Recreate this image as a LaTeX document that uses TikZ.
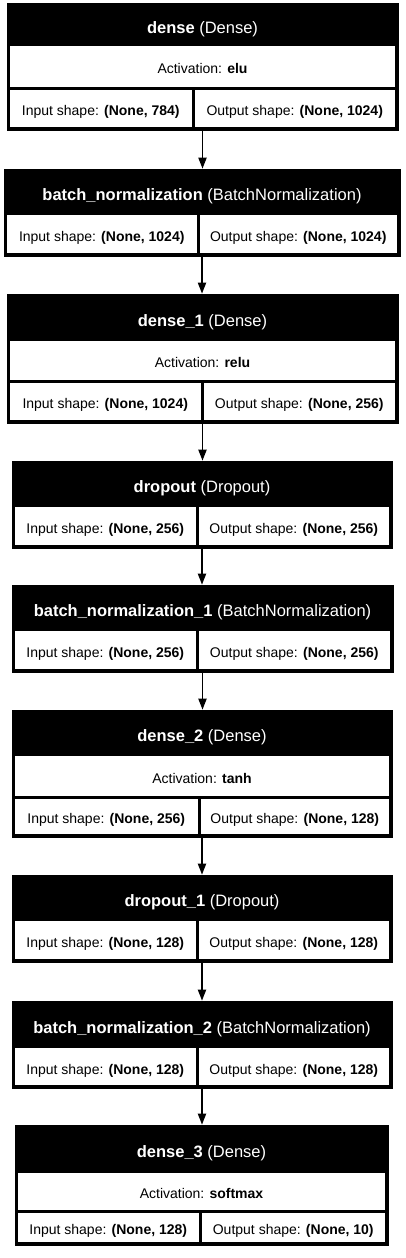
\documentclass[tikz,border=0pt]{standalone}
\usepackage{fontspec}
\setmainfont{Liberation Sans}
\usetikzlibrary{fit,calc}
\usetikzlibrary{arrows.meta,positioning}
\tikzset{
    layer/.style={fill=black,draw=black,line width=0.6pt,inner sep=0pt},
    head/.style={text=white,inner sep=0pt,text height=17pt,text depth=0pt,font=\fontsize{16.5}{19}\selectfont},
    cell/.style={fill=white,inner sep=0pt},
    txt/.style={inner sep=0pt,text height=15pt,text depth=0pt,font=\fontsize{14}{16}\selectfont},
}

\begin{document}
\begin{tikzpicture}[x=1pt,y=-1pt,flow/.style={-{Triangle[length=11pt,width=8pt]},line width=1.8pt}]
                \useasboundingbox (0,0) rectangle (405,1258);

                % dense
                \node[layer, fit={(7,3.5) (398,130)}] (b1) {};
                \node[head] (h1) at (202.5,24.5) {\textbf{dense} (Dense)};
                \node[cell, fit={(10,45.5) (395,86.5)}, label={[txt]center:{Activation: \textbf{elu}}}] (a1) {};
                \node[cell, fit={(10,89.5) (191.5,127)}, label={[txt]center:{Input shape: \textbf{(None, 784)}}}] (i1) {};
                \node[cell, fit={(194.5,89.5) (395,127)}, label={[txt]center:{Output shape: \textbf{(None, 1024)}}}] (o1) {};

                % batch_normalization
                \node[layer, fit={(4,169) (400,256)}] (b2) {};
                \node[head] (h2) at (202,192) {\textbf{batch\_normalization} (BatchNormalization)};
                \node[cell, fit={(7,215) (196.5,253)}, label={[txt]center:{Input shape: \textbf{(None, 1024)}}}] (i2) {};
                \node[cell, fit={(199.5,215) (397,253)}, label={[txt]center:{Output shape: \textbf{(None, 1024)}}}] (o2) {};

                % dense_1
                \node[layer, fit={(7,294) (398,423)}] (b3) {};
                \node[head] (h3) at (202.5,317.5) {\textbf{dense\_1} (Dense)};
                \node[cell, fit={(10,341) (395,379.5)}, label={[txt]center:{Activation: \textbf{relu}}}] (a3) {};
                \node[cell, fit={(10,382.5) (200.5,420)}, label={[txt]center:{Input shape: \textbf{(None, 1024)}}}] (i3) {};
                \node[cell, fit={(203.5,382.5) (395,420)}, label={[txt]center:{Output shape: \textbf{(None, 256)}}}] (o3) {};

                % dropout
                \node[layer, fit={(12,461) (392,548)}] (b4) {};
                \node[head] (h4) at (202,484) {\textbf{dropout} (Dropout)};
                \node[cell, fit={(15,507) (195.5,545)}, label={[txt]center:{Input shape: \textbf{(None, 256)}}}] (i4) {};
                \node[cell, fit={(198.5,507) (389,545)}, label={[txt]center:{Output shape: \textbf{(None, 256)}}}] (o4) {};

                % batch_normalization_1
                \node[layer, fit={(12,585) (393,672)}] (b5) {};
                \node[head] (h5) at (202.5,608) {\textbf{batch\_normalization\_1} (BatchNormalization)};
                \node[cell, fit={(15,631) (195.5,669)}, label={[txt]center:{Input shape: \textbf{(None, 256)}}}] (i5) {};
                \node[cell, fit={(198.5,631) (390,669)}, label={[txt]center:{Output shape: \textbf{(None, 256)}}}] (o5) {};

                % dense_2
                \node[layer, fit={(12,710) (392,837)}] (b6) {};
                \node[head] (h6) at (202,733) {\textbf{dense\_2} (Dense)};
                \node[cell, fit={(15,756) (389,795.5)}, label={[txt]center:{Activation: \textbf{tanh}}}] (a6) {};
                \node[cell, fit={(15,798.5) (197.5,834)}, label={[txt]center:{Input shape: \textbf{(None, 256)}}}] (i6) {};
                \node[cell, fit={(200.5,798.5) (389,834)}, label={[txt]center:{Output shape: \textbf{(None, 128)}}}] (o6) {};

                % dropout_1
                \node[layer, fit={(12,875) (392,962)}] (b7) {};
                \node[head] (h7) at (202,898) {\textbf{dropout\_1} (Dropout)};
                \node[cell, fit={(15,921) (195.5,959)}, label={[txt]center:{Input shape: \textbf{(None, 128)}}}] (i7) {};
                \node[cell, fit={(198.5,921) (389,959)}, label={[txt]center:{Output shape: \textbf{(None, 128)}}}] (o7) {};

                % batch_normalization_2
                \node[layer, fit={(12,1001) (392,1088)}] (b8) {};
                \node[head] (h8) at (202,1024.5) {\textbf{batch\_normalization\_2} (BatchNormalization)};
                \node[cell, fit={(15,1048) (195.5,1085)}, label={[txt]center:{Input shape: \textbf{(None, 128)}}}] (i8) {};
                \node[cell, fit={(198.5,1048) (389,1085)}, label={[txt]center:{Output shape: \textbf{(None, 128)}}}] (o8) {};

                % dense_3
                \node[layer, fit={(15,1125) (388,1245)}] (b9) {};
                \node[head] (h9) at (201.5,1149) {\textbf{dense\_3} (Dense)};
                \node[cell, fit={(18,1173) (385,1209.5)}, label={[txt]center:{Activation: \textbf{softmax}}}] (a9) {};
                \node[cell, fit={(18,1212.5) (198.5,1242)}, label={[txt]center:{Input shape: \textbf{(None, 128)}}}] (i9) {};
                \node[cell, fit={(201.5,1212.5) (385,1242)}, label={[txt]center:{Output shape: \textbf{(None, 10)}}}] (o9) {};

                \foreach \a/\b in {b1/b2,b2/b3,b3/b4,b4/b5,b5/b6,b6/b7,b7/b8,b8/b9}
                    \draw[flow] (\a.south) -- (\a.south |- \b.north);
            \end{tikzpicture}
\end{document}
